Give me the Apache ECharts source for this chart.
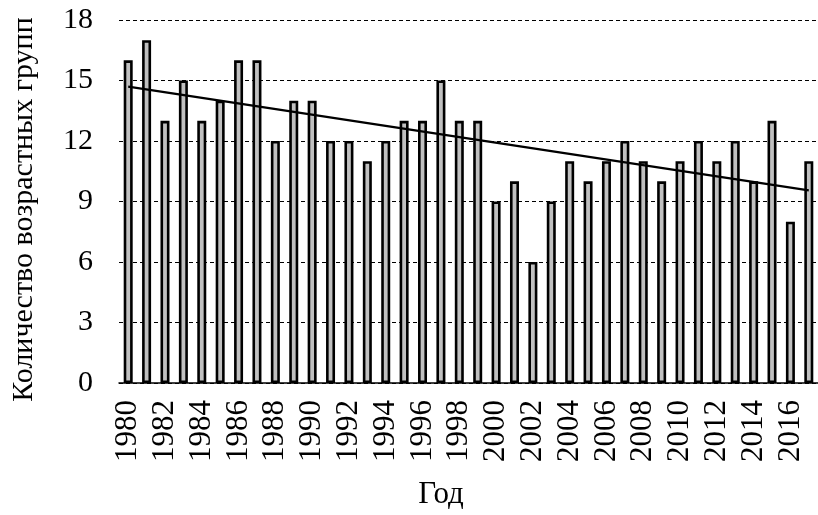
<!DOCTYPE html>
<html>
<head>
<meta charset="utf-8">
<script src="https://cdn.jsdelivr.net/npm/echarts@6/dist/echarts.min.js"></script>
<style>html,body{margin:0;padding:0;background:#fff}#c{width:818px;height:515px}</style>
</head>
<body>
<div id="c"></div>
<script>
const years = ['1980','1981','1982','1983','1984','1985','1986','1987','1988','1989',
  '1990','1991','1992','1993','1994','1995','1996','1997','1998','1999',
  '2000','2001','2002','2003','2004','2005','2006','2007','2008','2009',
  '2010','2011','2012','2013','2014','2015','2016','2017'];
const ageGroups = [16,17,13,15,13,14,16,16,12,14,
  14,12,12,11,12,13,13,15,13,13,
  9,10,6,9,11,10,11,12,11,10,
  11,12,11,12,10,13,8,11];
const trendStart = 14.7;
const trendEnd = 9.55;
const yTicks = [0,3,6,9,12,15,18];

const trendData = years.map((_, i) => i === 0 ? trendStart : (i === years.length - 1 ? trendEnd : null));
const font = 'Liberation Serif';

const chart = echarts.init(document.getElementById('c'), null, {renderer: 'canvas'});
chart.setOption({
  animation: false,
  backgroundColor: '#fff',
  grid: {left: 119, right: -2, top: 20, bottom: 128, containLabel: false},
  xAxis: {
    type: 'category',
    data: years,
    name: 'Год',
    nameLocation: 'middle',
    nameGap: 96,
    nameTextStyle: {fontFamily: font, fontSize: 31, color: '#000', padding: [0, 55, 0, 0]},
    axisLine: {lineStyle: {color: '#000', width: 1.5}},
    axisTick: {show: false},
    axisLabel: {rotate: 90, interval: 1, fontFamily: font, fontSize: 31, color: '#000', margin: 17}
  },
  yAxis: {
    type: 'value',
    min: yTicks[0],
    max: yTicks[yTicks.length - 1],
    interval: 3,
    name: 'Количество возрастных групп',
    nameLocation: 'middle',
    nameRotate: 90,
    nameGap: 80,
    nameTextStyle: {fontFamily: font, fontSize: 30, color: '#000', padding: [0, 16, 0, 0]},
    axisLine: {show: false},
    axisTick: {show: false},
    axisLabel: {fontFamily: font, fontSize: 30, color: '#000', margin: 26},
    splitLine: {lineStyle: {color: '#000', type: [4, 3], width: 1}}
  },
  series: [
    {
      type: 'bar',
      data: ageGroups,
      barWidth: 9,
      itemStyle: {color: '#c0c0c0', borderColor: '#000', borderWidth: 2.6}
    },
    {
      type: 'line',
      data: trendData,
      connectNulls: true,
      symbol: 'none',
      lineStyle: {color: '#000', width: 2.2},
      z: 5
    }
  ]
});
</script>
</body>
</html>
